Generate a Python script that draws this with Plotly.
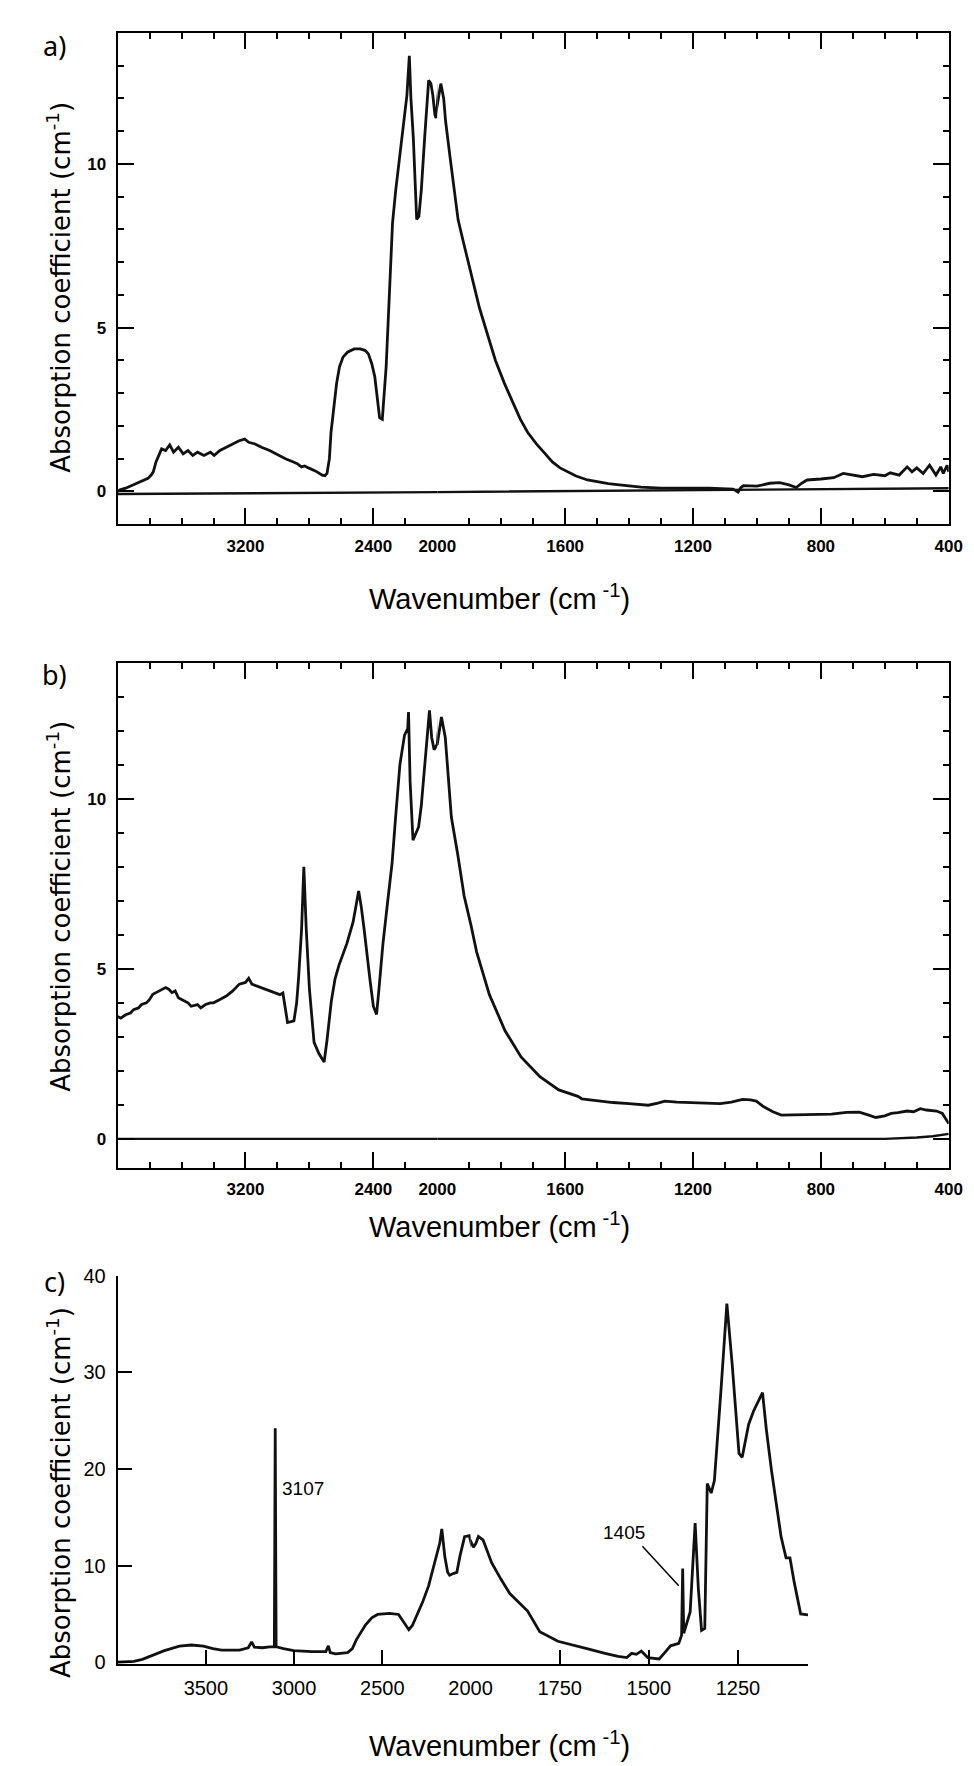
import plotly.graph_objects as go

W, H = 974, 1766

# ---- panel a: absorption spectrum (cm-1) ----
A_WN = [4000, 3985, 3950, 3900, 3847, 3810, 3790, 3777, 3760, 3740, 3725, 3700, 3674, 3650,
        3620, 3590, 3560, 3530, 3500, 3460, 3420, 3396, 3360, 3320, 3280, 3240, 3205, 3180,
        3140, 3100, 3049, 3000, 2950, 2900, 2876, 2850, 2830, 2806, 2760, 2720, 2703, 2690,
        2675, 2665, 2653, 2630, 2612, 2590, 2562, 2520, 2482, 2450, 2431, 2410, 2391, 2375,
        2361, 2344, 2332, 2320, 2300, 2280, 2260, 2240, 2210, 2190, 2175, 2165, 2150, 2138,
        2129, 2115, 2100, 2079, 2065, 2054, 2040, 2028, 2015, 2008, 2000, 1989, 1980, 1974,
        1960, 1949, 1935, 1918, 1890, 1868, 1840, 1818, 1790, 1767, 1740, 1717, 1690, 1667,
        1640, 1616, 1590, 1566, 1530, 1495, 1465, 1430, 1400, 1363, 1300, 1250, 1189, 1150,
        1100, 1075, 1059, 1050, 1042, 1000, 960, 929, 900, 877, 860, 843, 800, 760, 730, 704,
        670, 635, 600, 583, 555, 530, 515, 500, 480, 460, 440, 425, 417, 405, 400]
A_K = [0.0, 0.05, 0.1, 0.2, 0.32, 0.4, 0.5, 0.6, 0.9, 1.15, 1.3, 1.25, 1.42, 1.2,
       1.35, 1.15, 1.25, 1.1, 1.2, 1.1, 1.2, 1.1, 1.25, 1.35, 1.45, 1.55, 1.6, 1.5,
       1.45, 1.35, 1.25, 1.12, 1.0, 0.9, 0.85, 0.75, 0.78, 0.72, 0.62, 0.5, 0.48, 0.55,
       1.0, 1.8, 2.3, 3.3, 3.8, 4.1, 4.25, 4.35, 4.35, 4.3, 4.2, 3.9, 3.5, 2.8,
       2.25, 2.2, 2.9, 3.8, 6.0, 8.2, 9.2, 10.0, 11.3, 12.1, 13.3, 12.0, 10.8, 9.2,
       8.3, 8.4, 9.2, 10.8, 11.9, 12.55, 12.45, 12.1, 11.5, 11.4, 11.8, 12.45, 12.0, 11.3,
       10.2, 9.3, 8.3, 7.6, 6.5, 5.6, 4.7, 4.0, 3.3, 2.8, 2.2, 1.8, 1.45, 1.2,
       0.9, 0.72, 0.58, 0.47, 0.35, 0.28, 0.24, 0.2, 0.16, 0.13, 0.1, 0.09, 0.1, 0.1,
       0.08, 0.07, -0.02, 0.12, 0.18, 0.16, 0.25, 0.27, 0.2, 0.12, 0.25, 0.35, 0.38, 0.42, 0.55, 0.5,
       0.45, 0.52, 0.48, 0.57, 0.5, 0.75, 0.6, 0.72, 0.55, 0.8, 0.5, 0.75, 0.55, 0.8, 0.6]
A_BASE_WN = [4000, 2000, 400]
A_BASE_K = [-0.08, -0.02, 0.1]

# ---- panel b ----
B_WN = [4000, 3980, 3950, 3920, 3900, 3870, 3850, 3820, 3800, 3780, 3760, 3740, 3720, 3700,
        3680, 3660, 3640, 3620, 3600, 3560, 3540, 3500, 3480, 3450, 3420, 3400, 3360, 3320,
        3280, 3239, 3200, 3180, 3160, 3122, 3100, 3044, 2985, 2966, 2955, 2937, 2897, 2880,
        2868, 2849, 2835, 2820, 2800, 2771, 2740, 2708, 2690, 2663, 2640, 2615, 2566, 2527,
        2492, 2475, 2458, 2440, 2420, 2400, 2380, 2365, 2341, 2310, 2283, 2260, 2234, 2205,
        2185, 2180, 2176, 2170, 2152, 2135, 2117, 2100, 2088, 2065, 2049, 2035, 2020, 2000,
        1987, 1975, 1965, 1956, 1935, 1916, 1895, 1877, 1837, 1788, 1738, 1679, 1620, 1560,
        1548, 1500, 1450, 1400, 1375, 1340, 1310, 1288, 1250, 1200, 1150, 1115, 1080, 1045,
        1020, 1002, 980, 950, 924, 880, 820, 767, 720, 680, 650, 628, 600, 580, 559, 530,
        510, 489, 470, 438, 420, 405, 400]
B_K = [3.6, 3.55, 3.65, 3.7, 3.8, 3.85, 3.95, 4.0, 4.1, 4.25, 4.3, 4.35, 4.4, 4.45,
       4.4, 4.3, 4.35, 4.15, 4.1, 4.0, 3.9, 3.95, 3.85, 3.95, 4.0, 4.0, 4.1, 4.2,
       4.35, 4.55, 4.6, 4.72, 4.55, 4.48, 4.45, 4.34, 4.24, 4.29, 3.9, 3.42, 3.47, 4.0,
       4.72, 6.17, 8.0, 6.17, 4.4, 2.84, 2.5, 2.26, 2.9, 4.05, 4.7, 5.11, 5.74, 6.37,
       7.29, 6.8, 6.17, 5.4, 4.63, 3.9, 3.66, 4.4, 5.69, 7.0, 8.1, 9.5, 11.0, 11.87,
       12.06, 12.55, 11.9, 10.5, 8.78, 9.0, 9.17, 9.8, 10.5, 11.7, 12.6, 11.8, 11.44, 11.6,
       12.4, 11.8, 10.6, 9.46, 8.3, 7.14, 6.3, 5.5, 4.24, 3.18, 2.41, 1.83, 1.44, 1.25,
       1.18, 1.12, 1.07, 1.04, 1.01, 0.99, 1.05, 1.11, 1.08, 1.06, 1.05, 1.04, 1.08, 1.16,
       1.15, 1.11, 0.95, 0.8, 0.7, 0.71, 0.72, 0.73, 0.78, 0.79, 0.7, 0.63, 0.68, 0.75, 0.77, 0.82,
       0.8, 0.89, 0.85, 0.82, 0.75, 0.53, 0.45]
B_BASE_WN = [4000, 600, 500, 450, 400]
B_BASE_K = [0.0, 0.0, 0.04, 0.08, 0.15]

# ---- panel c ----
C_WN = [4000, 3908, 3860, 3820, 3735, 3650, 3582, 3514, 3460, 3411, 3309, 3260, 3241, 3225,
        3180, 3139, 3112, 3107, 3102, 3060, 3003, 2901, 2820, 2806, 2795, 2765, 2697, 2670,
        2646, 2595, 2560, 2527, 2459, 2408, 2374, 2350, 2330, 2306, 2270, 2238, 2210, 2187,
        2175, 2163, 2155, 2146, 2130, 2119, 2095, 2078, 2060, 2034, 2007, 1992, 1985, 1978,
        1965, 1941, 1915, 1890, 1840, 1806, 1755, 1700, 1671, 1620, 1586, 1562, 1548, 1535,
        1521, 1503, 1471, 1457, 1439, 1416, 1408, 1405, 1402, 1384, 1370, 1361, 1352, 1343,
        1336, 1325, 1316, 1297, 1281, 1266, 1247, 1238, 1220, 1206, 1181, 1170, 1156, 1129,
        1115, 1104, 1092, 1074, 1053]
C_K = [0.0, 0.08, 0.3, 0.6, 1.2, 1.66, 1.78, 1.66, 1.4, 1.26, 1.25, 1.5, 2.1, 1.55,
       1.5, 1.58, 1.6, 24.2, 1.6, 1.4, 1.2, 1.1, 1.1, 1.7, 1.0, 0.87, 1.0, 1.4,
       2.37, 3.87, 4.6, 4.94, 5.06, 4.94, 3.95, 3.36, 3.8, 4.74, 6.3, 7.9, 9.8, 11.46,
       12.3, 13.8, 12.0, 10.9, 9.3, 9.0, 9.2, 9.3, 11.0, 13.0, 13.1, 11.9, 12.3, 13.0,
       12.65, 10.3, 8.6, 7.1, 5.3, 3.16, 2.17, 1.6, 1.38, 0.9, 0.6, 0.48, 0.92, 0.82,
       1.16, 0.48, 0.34, 0.92, 1.7, 1.95, 2.8, 9.7, 3.0, 5.2, 14.4, 7.6, 3.3, 3.5,
       18.5, 17.5, 18.8, 28.4, 37.1, 30.8, 21.6, 21.2, 24.6, 26.0, 27.9, 24.0, 19.9, 13.0,
       10.8, 10.8, 8.26, 5.0, 4.9]

AB_TICKS_LEFT = [3200, 2400]
AB_TICKS_RIGHT = [2000, 1600, 1200, 800, 400]
AB_Y_TICKS = [0, 5, 10]
C_TICKS_LEFT = [3500, 3000, 2500]
C_TICKS_RIGHT = [2000, 1750, 1500, 1250]
C_Y_TICKS = [0, 10, 20, 30, 40]

TICK_FONT = dict(family="Liberation Sans Narrow, Arial Narrow, Liberation Sans", size=17,
                 color="black", weight="bold")
C_TICK_FONT = dict(family="Liberation Sans, Arial", size=20, color="black")
TITLE_FONT = dict(family="DejaVu Sans", size=26, color="black")
XTITLE_FONT = dict(family="Liberation Sans, Arial", size=29, color="black")
LABEL_FONT = dict(family="Noto Sans, Open Sans", size=27, color="black")
NOTE_FONT = dict(family="Liberation Sans, Arial", size=19, color="black")


def px(v):
    return v / W


def py(v):
    return 1 - v / H


fig = go.Figure()


def add_spectrum(wn, k, xa, ya, width=2.8):
    # full arrays on both segments; each subplot clips to its own range
    fig.add_trace(go.Scatter(x=wn, y=k, mode="lines", xaxis=xa, yaxis=ya,
                             line=dict(color="#111", width=width), showlegend=False,
                             hoverinfo="skip"))


# panel a -> x/y (left), x2/y2 (right); panel b -> x3/y3, x4/y4; panel c -> x5/y5, x6/y6
for xl, xr, yl, yr, wn, k, bwn, bk in [("x", "x2", "y", "y2", A_WN, A_K, A_BASE_WN, A_BASE_K),
                                       ("x3", "x4", "y3", "y4", B_WN, B_K, B_BASE_WN, B_BASE_K)]:
    for xa, ya in [(xl, yl), (xr, yr)]:
        add_spectrum(bwn, bk, xa, ya, width=2.4)
        add_spectrum(wn, k, xa, ya)
for xa, ya in [("x5", "y5"), ("x6", "y6")]:
    add_spectrum(C_WN, C_K, xa, ya)

AB_L, AB_R = 91, 954
AB_BRK = AB_L + (AB_R - AB_L) * 10 / 26
C_L, C_BRK, C_R = 91, 457.5, 808


def xaxis(dom, rng, ticks, anchor, minor=None, mirror="allticks", ticklen=16, font=TICK_FONT):
    d = dict(domain=[px(dom[0]), px(dom[1])], range=rng, anchor=anchor,
             tickmode="array", tickvals=ticks, ticktext=[str(t) for t in ticks],
             ticks="inside", ticklen=ticklen, tickwidth=2, tickcolor="black",
             showline=True, linecolor="black", linewidth=2, mirror=mirror,
             showgrid=False, zeroline=False, tickfont=font, ticklabelstandoff=5)
    if minor:
        d["minor"] = dict(dtick=minor, tick0=0, ticks="inside", ticklen=6, tickwidth=2,
                          tickcolor="black", showgrid=False)
    return d


def yaxis(dom, rng, ticks, anchor, side="left", labels=True, minor=1, ticklen=16,
          font=TICK_FONT, matches=None):
    d = dict(domain=[py(dom[1]), py(dom[0])], range=rng, anchor=anchor, side=side,
             tickmode="array", tickvals=ticks, ticks="inside", ticklen=ticklen, tickwidth=2,
             tickcolor="black", showline=True, linecolor="black", linewidth=2,
             showticklabels=labels, showgrid=False, zeroline=False, tickfont=font,
             ticklabelstandoff=6)
    if minor:
        d["minor"] = dict(dtick=minor, tick0=0, ticks="inside", ticklen=6, tickwidth=2,
                          tickcolor="black", showgrid=False)
    if matches:
        d["matches"] = matches
    return d


A_Y = (14, 511)
B_Y = (651, 1162)
C_Y = (1271, 1664)

layout = dict(
    width=W, height=H, margin=dict(l=0, r=0, t=0, b=0),
    paper_bgcolor="white", plot_bgcolor="white", showlegend=False,
    xaxis=xaxis((AB_L, AB_BRK), [4000, 2000], AB_TICKS_LEFT, "y", minor=200),
    xaxis2=xaxis((AB_BRK, AB_R), [2000, 400], AB_TICKS_RIGHT, "y2", minor=100),
    yaxis=yaxis(A_Y, [-1, 14], AB_Y_TICKS, "x"),
    yaxis2=yaxis(A_Y, [-1, 14], AB_Y_TICKS, "x2", side="right", labels=False, matches="y"),
    xaxis3=xaxis((AB_L, AB_BRK), [4000, 2000], AB_TICKS_LEFT, "y3", minor=200),
    xaxis4=xaxis((AB_BRK, AB_R), [2000, 400], AB_TICKS_RIGHT, "y4", minor=100),
    yaxis3=yaxis(B_Y, [-0.85, 14], AB_Y_TICKS, "x3"),
    yaxis4=yaxis(B_Y, [-0.85, 14], AB_Y_TICKS, "x4", side="right", labels=False, matches="y3"),
    xaxis5=xaxis((C_L, C_BRK), [4000, 2000], C_TICKS_LEFT, "y5", mirror=False, ticklen=14,
                 font=C_TICK_FONT),
    xaxis6=xaxis((C_BRK, C_R), [2000, 1053], C_TICKS_RIGHT, "y6", mirror=False, ticklen=14,
                 font=C_TICK_FONT),
    yaxis5=yaxis(C_Y, [-0.2, 40], C_Y_TICKS, "x5", minor=None, ticklen=14, font=C_TICK_FONT),
    yaxis6=dict(domain=[py(C_Y[1]), py(C_Y[0])], range=[-0.2, 40], anchor="x6",
                matches="y5", visible=False),
)
fig.update_layout(**layout)


def note(text, x, y, font, xref="paper", yref="paper", angle=0, xanchor="center"):
    if xref == "paper":
        x, y = px(x), py(y)
    return dict(text=text, x=x, y=y, xref=xref, yref=yref, showarrow=False,
                textangle=angle, xanchor=xanchor, yanchor="middle", font=font)


ann = []
for label, yc in [("a)", 27), ("b)", 663), ("c)", 1277)]:
    ann.append(note(label, 25, yc, LABEL_FONT))
for yc in [271, 897, 1490]:
    ann.append(note("Absorption coefficient (cm<sup>-1</sup>)", 30, yc, TITLE_FONT, angle=-90))
for yc in [585, 1220, 1745]:
    ann.append(note("Wavenumber (cm<sup> -1</sup>)", 487, yc, XTITLE_FONT))
ann.append(note("3107", 3080, 18, NOTE_FONT, xref="x5", yref="y5", xanchor="left"))
ann.append(note("1405", 1571, 13.4, NOTE_FONT, xref="x6", yref="y6"))
fig.update_layout(annotations=ann)
fig.add_shape(type="line", x0=1518, y0=12.0, x1=1416, y1=7.9, xref="x6", yref="y6",
              line=dict(color="black", width=1.5))

fig.write_html("out.html")
